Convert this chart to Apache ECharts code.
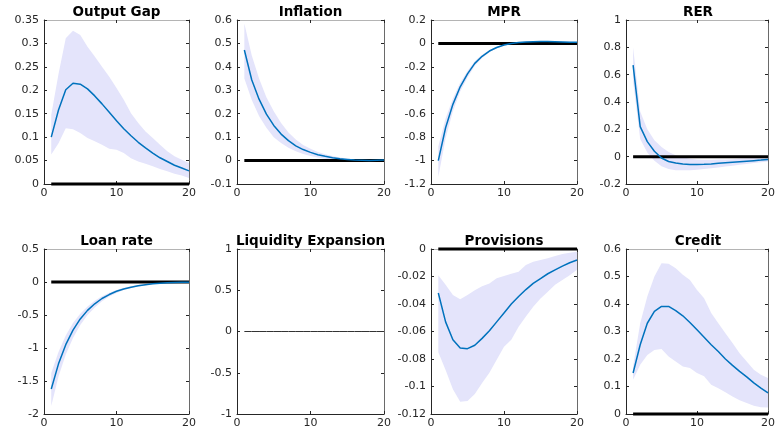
<!DOCTYPE html>
<html><head><meta charset="utf-8">
<script src="https://cdn.jsdelivr.net/npm/echarts@6/dist/echarts.min.js"></script>
<style>html,body{margin:0;padding:0;background:#fff}#c{width:778px;height:432px}</style>
</head><body><div id="c"></div>
<script>
const periods = [1,2,3,4,5,6,7,8,9,10,11,12,13,14,15,16,17,18,19,20];
const titles = ['Output Gap','Inflation','MPR','RER','Loan rate','Liquidity Expansion','Provisions','Credit'];

const outputGapMid = [0.100,0.158,0.201,0.215,0.213,0.203,0.188,0.171,0.153,0.135,0.118,0.103,0.089,0.077,0.066,0.056,0.048,0.040,0.034,0.028];
const outputGapHi  = [0.148,0.235,0.311,0.327,0.318,0.293,0.272,0.250,0.229,0.205,0.180,0.151,0.130,0.112,0.098,0.084,0.070,0.059,0.052,0.045];
const outputGapLo  = [0.063,0.087,0.119,0.117,0.109,0.098,0.091,0.084,0.075,0.073,0.066,0.055,0.048,0.043,0.038,0.032,0.027,0.022,0.018,0.013];

const inflationMid = [0.472,0.345,0.262,0.198,0.150,0.113,0.085,0.063,0.047,0.035,0.025,0.018,0.012,0.008,0.005,0.002,0.001,0.000,0.001,0.002];
const inflationHi  = [0.585,0.450,0.350,0.270,0.210,0.160,0.120,0.090,0.066,0.050,0.037,0.027,0.019,0.013,0.009,0.006,0.004,0.003,0.003,0.003];
const inflationLo  = [0.350,0.260,0.190,0.140,0.100,0.075,0.055,0.040,0.028,0.020,0.013,0.008,0.005,0.002,0.000,-0.001,-0.002,-0.002,-0.001,0.000];

const mprMid = [-1.00,-0.72,-0.52,-0.37,-0.26,-0.17,-0.11,-0.065,-0.035,-0.013,0.000,0.008,0.013,0.015,0.016,0.016,0.015,0.013,0.011,0.009];
const mprHi  = [-0.88,-0.64,-0.47,-0.335,-0.235,-0.152,-0.097,-0.056,-0.028,-0.008,0.004,0.011,0.016,0.018,0.019,0.019,0.018,0.016,0.014,0.012];
const mprLo  = [-1.14,-0.81,-0.58,-0.41,-0.29,-0.19,-0.125,-0.075,-0.043,-0.019,-0.005,0.004,0.009,0.012,0.013,0.013,0.012,0.010,0.008,0.006];

const rerMid = [0.67,0.22,0.11,0.04,-0.01,-0.035,-0.046,-0.053,-0.058,-0.058,-0.056,-0.053,-0.049,-0.045,-0.041,-0.037,-0.033,-0.029,-0.025,-0.020];
const rerHi  = [0.80,0.33,0.20,0.12,0.07,0.035,0.010,-0.005,-0.015,-0.020,-0.022,-0.022,-0.021,-0.020,-0.018,-0.016,-0.014,-0.012,-0.011,-0.010];
const rerLo  = [0.55,0.13,0.03,-0.03,-0.07,-0.09,-0.10,-0.10,-0.10,-0.095,-0.090,-0.085,-0.079,-0.072,-0.066,-0.059,-0.053,-0.047,-0.041,-0.035];

const loanRateMid = [-1.62,-1.24,-0.95,-0.73,-0.56,-0.43,-0.33,-0.25,-0.19,-0.14,-0.105,-0.078,-0.056,-0.040,-0.028,-0.019,-0.012,-0.007,-0.004,-0.002];
const loanRateHi  = [-1.38,-1.06,-0.81,-0.62,-0.48,-0.37,-0.285,-0.215,-0.163,-0.12,-0.088,-0.064,-0.045,-0.031,-0.021,-0.013,-0.007,-0.003,-0.001,0.000];
const loanRateLo  = [-1.88,-1.43,-1.10,-0.85,-0.65,-0.50,-0.385,-0.29,-0.22,-0.165,-0.123,-0.092,-0.067,-0.049,-0.035,-0.025,-0.017,-0.011,-0.007,-0.004];

const liquidityMid = [0,0,0,0,0,0,0,0,0,0,0,0,0,0,0,0,0,0,0,0];

const provisionsMid = [-0.032,-0.053,-0.066,-0.072,-0.0725,-0.070,-0.065,-0.0595,-0.053,-0.0465,-0.040,-0.0345,-0.0295,-0.025,-0.0215,-0.018,-0.0152,-0.0125,-0.010,-0.008];
const provisionsHi  = [-0.019,-0.026,-0.0335,-0.0365,-0.0335,-0.030,-0.027,-0.025,-0.0213,-0.0196,-0.018,-0.0165,-0.0116,-0.0092,-0.008,-0.0068,-0.005,-0.0036,-0.0027,-0.002];
const provisionsLo  = [-0.075,-0.088,-0.102,-0.111,-0.1105,-0.1055,-0.0975,-0.090,-0.0805,-0.071,-0.066,-0.0565,-0.049,-0.042,-0.036,-0.031,-0.026,-0.0225,-0.019,-0.015];

const creditMid = [0.149,0.252,0.330,0.373,0.391,0.391,0.376,0.357,0.333,0.306,0.279,0.252,0.227,0.200,0.177,0.155,0.135,0.113,0.094,0.077];
const creditHi  = [0.173,0.330,0.427,0.500,0.548,0.546,0.530,0.506,0.487,0.451,0.421,0.367,0.330,0.294,0.258,0.221,0.191,0.161,0.143,0.131];
const creditLo  = [0.125,0.179,0.215,0.233,0.236,0.209,0.191,0.173,0.167,0.149,0.137,0.106,0.094,0.079,0.064,0.050,0.040,0.030,0.025,0.024];

const yMin = [0,-0.1,-1.2,-0.2,-2,-1,-0.12,0];
const yMax = [0.35,0.6,0.2,1,0.5,1,0,0.6];
const yStep = [0.05,0.1,0.2,0.2,0.5,0.5,0.02,0.1];

const mids = [outputGapMid,inflationMid,mprMid,rerMid,loanRateMid,liquidityMid,provisionsMid,creditMid];
const his = [outputGapHi,inflationHi,mprHi,rerHi,loanRateHi,null,provisionsHi,creditHi];
const los = [outputGapLo,inflationLo,mprLo,rerLo,loanRateLo,null,provisionsLo,creditLo];

const boxes = [
  [44,20,145,164],[237,20,147,164],[431,20,146,164],[626,20,144,164],
  [44,249,145,165],[237,249,147,165],[431,249,146,165],[626,249,144,165]
];

const FONT = 'DejaVu Sans';
const AX = '#262626';
const grids=[], xAxes=[], yAxes=[], series=[], graphics=[];
boxes.forEach((b,i)=>{
  grids.push({left:b[0],top:b[1],width:b[2],height:b[3],containLabel:false});
  const tick = {show:true,inside:true,length:3,lineStyle:{color:AX,width:1}};
  xAxes.push({gridIndex:i,type:'value',min:0,max:20,interval:10,position:'bottom',
    axisLine:{onZero:false,lineStyle:{color:AX,width:1}},axisTick:tick,splitLine:{show:false},
    axisLabel:{color:AX,fontFamily:FONT,fontSize:11,margin:4}});
  xAxes.push({gridIndex:i,type:'value',min:0,max:20,interval:10,position:'top',
    axisLine:{onZero:false,lineStyle:{color:'#b4b4b4',width:1}},axisTick:tick,splitLine:{show:false},
    axisLabel:{show:false}});
  yAxes.push({gridIndex:i,type:'value',min:yMin[i],max:yMax[i],interval:yStep[i],position:'left',
    axisLine:{onZero:false,lineStyle:{color:AX,width:1}},axisTick:tick,splitLine:{show:false},
    axisLabel:{color:AX,fontFamily:FONT,fontSize:11,margin:5}});
  yAxes.push({gridIndex:i,type:'value',min:yMin[i],max:yMax[i],interval:yStep[i],position:'right',
    axisLine:{onZero:false,lineStyle:{color:'#6a6a6a',width:1}},axisTick:tick,splitLine:{show:false},
    axisLabel:{show:false}});
  const xi = 2*i, yi = 2*i;
  if (his[i]) {
    const hi = his[i], lo = los[i];
    series.push({type:'custom',xAxisIndex:xi,yAxisIndex:yi,silent:true,z:1,
      data:periods.map((p,k)=>[p,lo[k],hi[k]]),
      encode:{x:0,y:[1,2]},
      renderItem:function(params,api){
        if (params.dataIndex !== 0) return null;
        const pts=[];
        for (let k=0;k<periods.length;k++) pts.push(api.coord([periods[k],hi[k]]));
        for (let k=periods.length-1;k>=0;k--) pts.push(api.coord([periods[k],lo[k]]));
        return {type:'polygon',shape:{points:pts},style:{fill:'#e4e4fb',stroke:null}};
      }});
    series.push({type:'line',xAxisIndex:xi,yAxisIndex:yi,data:periods.map(p=>[p,0]),symbol:'none',
      lineStyle:{color:'#000',width:3},clip:false,silent:true,z:2});
    series.push({type:'line',xAxisIndex:xi,yAxisIndex:yi,data:periods.map((p,k)=>[p,mids[i][k]]),symbol:'none',
      lineStyle:{color:'#0072BD',width:1.5},silent:true,z:3});
  } else {
    series.push({type:'line',xAxisIndex:xi,yAxisIndex:yi,data:periods.map((p,k)=>[p,mids[i][k]]),symbol:'none',
      lineStyle:{color:'#333',width:1},silent:true,z:3});
  }
  graphics.push({type:'text',x:b[0]+b[2]/2,y:b[1]-1,
    style:{text:titles[i],font:'bold 13.5px "DejaVu Sans"',fill:'#000',textAlign:'center',textVerticalAlign:'bottom'}});
});

const chart = echarts.init(document.getElementById('c'),null,{renderer:'canvas'});
chart.setOption({animation:false,backgroundColor:'#fff',grid:grids,xAxis:xAxes,yAxis:yAxes,series:series,graphic:graphics});
</script></body></html>
